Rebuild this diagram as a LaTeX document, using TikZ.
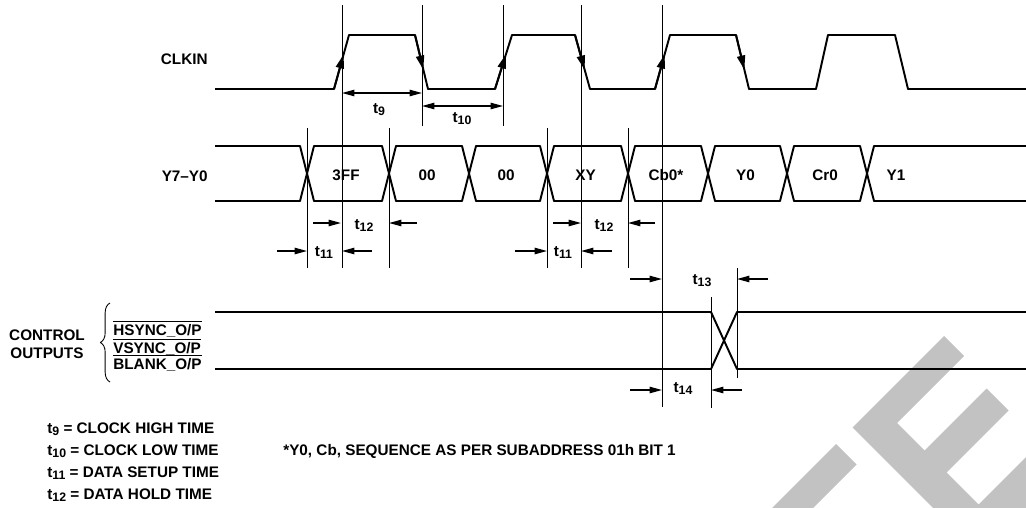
\documentclass[tikz,border=0pt]{standalone}
\usepackage{fontspec}
\setmainfont{Liberation Sans}
\usepackage{tikz}
\usetikzlibrary{arrows.meta,calc,decorations.pathreplacing}
\definecolor{wmgray}{HTML}{C2C2C2}
\tikzset{
  every picture/.style={font=\fontsize{8.7}{10}\selectfont\bfseries, line join=round, >=Stealth},
  signal/.style={line width=1.1pt, line join=round},
  guide/.style={line width=0.5pt},
  tmark/.style={line width=0.8pt, -{Triangle[length=7pt,width=3.6pt]}},
  tspan/.style={line width=0.8pt, {Triangle[length=7pt,width=3.6pt]}-{Triangle[length=7pt,width=3.6pt]}},
  edgetip/.style={line width=1.1pt, -{Triangle[length=8pt,width=4.6pt]}},
}
\newcommand\ovl[1]{$\overline{\mbox{#1}}$}
\newcommand\tsub[1]{t\raisebox{-1.2pt}{\fontsize{7}{8}\selectfont#1}}

\begin{document}
\begin{tikzpicture}[x=0.02cm,y=-0.02cm,every node/.style={inner sep=0pt}]
\useasboundingbox (0,0) rectangle (1026,507);
% watermark
\begin{scope}
\clip (0,0) rectangle (1026,507);
\fill[wmgray] (944,336) -- (964,356) -- (897,423) -- (924.5,450.5) -- (986.5,388.5) -- (1008.5,410.5) -- (946.5,472.5) -- (978.5,504.5) -- (1040.5,442.5) -- (1062.5,464.5) -- (1100,600) -- (1025,600) -- (852.5,427.5) -- cycle;
\fill[wmgray] (836,444) -- (856.5,464.5) -- (791,530) -- (750,530) -- cycle;
\end{scope}
% clock
\node[anchor=base east] (clkin) at (208,64) {CLKIN};
\draw[signal] (215,89) -- (334,89) -- (349,35) -- (415,35) -- (428,89) -- (495,89) -- (512,35) -- (575,35) -- (590,89) -- (655,89) -- (670,35) -- (736,35) -- (749,89) -- (816,89) -- (828,35) -- (895,35) -- (908,89) -- (1026,89);
\foreach \xa/\ya/\xb/\yb in {334/89/349/35, 415/35/428/89, 495/89/512/35, 575/35/590/89, 655/89/670/35, 736/35/749/89}
  \draw[edgetip] (\xa,\ya) -- ($(\xa,\ya)!0.64!(\xb,\yb)$);
% data bus
\node[anchor=base east] (ybus) at (208,181) {Y7–Y0};
\draw[signal] (215,146) -- (300,146) -- (307,173.5) -- (300,201) -- (215,201);
\foreach \a/\b/\txt [count=\i] in {307/389/3FF, 389/469/00, 469/547/00, 547/628/XY, 628/708/Cb0*, 708/787/Y0, 787/867/Cr0} {
  \draw[signal] (\a,173.5) -- (\a+7,146) -- (\b-7,146) -- (\b,173.5) -- (\b-7,201) -- (\a+7,201) -- cycle;
  \node[anchor=base] (cell\i) at ({(\a+\b)/2-2},180) {\txt};
}
\draw[signal] (1026,146) -- (874,146) -- (867,173.5) -- (874,201) -- (1026,201);
\node[anchor=base] (cell8) at (896,180) {Y1};
% guide lines
\foreach \x/\ya/\yb in {342/5/268, 422/5/126, 503/5/126, 581/5/268, 662/5/407, 307/128/268, 389/128/268, 547/128/268, 628/128/268, 711/297/408, 737/268/378}
  \draw[guide] (\x,\ya) -- (\x,\yb);
% timing marks
\draw[tspan] (342,93) -- (422,93);
\draw[tspan] (422,106) -- (503,106);
\foreach \xa/\xb/\y in {313/341/223, 417/389/223, 277/307/251, 372/342/251, 553/581/223, 655/628/223, 515/547/251, 612/581/251, 630/662/279, 768/737/279, 630/662/390, 742/711/390}
  \draw[tmark] (\xa,\y) -- (\xb,\y);
\node[anchor=base] (t9) at (379,113) {\tsub{9}};
\node[anchor=base] (t10) at (462,122) {\tsub{10}};
\node[anchor=base] (t12a) at (364,229) {\tsub{12}};
\node[anchor=base] (t11a) at (324,256) {\tsub{11}};
\node[anchor=base] (t12b) at (604,229) {\tsub{12}};
\node[anchor=base] (t11b) at (563,256) {\tsub{11}};
\node[anchor=base] (t13) at (702,284) {\tsub{13}};
\node[anchor=base] (t14) at (683,392) {\tsub{14}};
% control outputs
\draw[signal] (215,312) -- (711,312) -- (737,369) -- (1026,369);
\draw[signal] (215,369) -- (711,369) -- (737,312) -- (1026,312);
\node[align=center] (ctrl) at (47,344) {CONTROL\\OUTPUTS};
\draw[guide,decorate,decoration={brace,amplitude=5.5pt}] (110,382) -- (110,303);
\node[anchor=base west] (hsync) at (113,335) {\ovl{HSYNC\_O/P}};
\node[anchor=base west] (vsync) at (113,353) {\ovl{VSYNC\_O/P}};
\node[anchor=base west] (blank) at (113,369) {\ovl{BLANK\_O/P}};
% legend
\node[anchor=base west] (lg9) at (47,433) {\tsub{9} = CLOCK HIGH TIME};
\node[anchor=base west] (lg10) at (47,455) {\tsub{10} = CLOCK LOW TIME};
\node[anchor=base west] (lg11) at (47,477) {\tsub{11} = DATA SETUP TIME};
\node[anchor=base west] (lg12) at (47,499) {\tsub{12} = DATA HOLD TIME};
\node[anchor=base west] (note) at (283,455) {*Y0, Cb, SEQUENCE AS PER SUBADDRESS 01h BIT 1};
\end{tikzpicture}
\end{document}
